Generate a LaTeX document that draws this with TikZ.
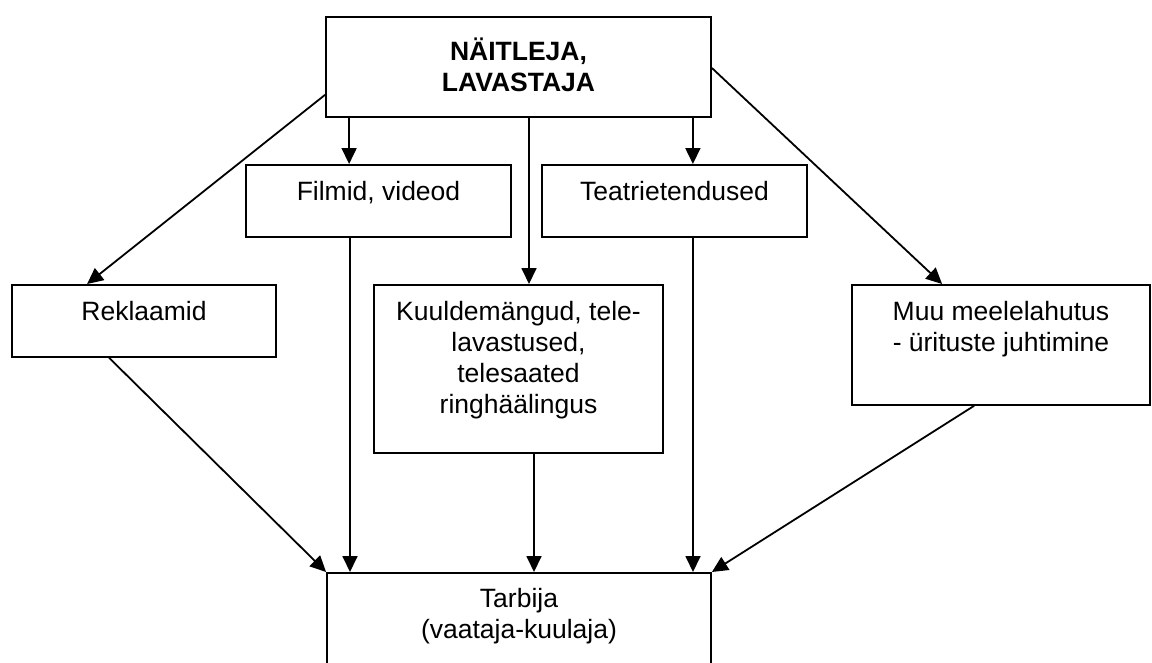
\documentclass[tikz,border=0pt]{standalone}
\usepackage{fontspec}
\setmainfont{Liberation Sans}
\usetikzlibrary{arrows.meta}

\begin{document}
\begin{tikzpicture}[x=1pt, y=-1pt,
      box/.style = {shape=rectangle, draw, align=center, inner sep=0pt,
        line width=1.8pt, font=\fontsize{26.5}{31}\selectfont},
      arr/.style = {-{Triangle[length=16pt,width=15pt]}, line width=1.8pt}]
      \useasboundingbox (0,0) rectangle (1152,662);
      \clip (0,0) rectangle (1152,662);
      % boxes
      \node[box, anchor=north, minimum width=385pt, text height=75pt, text depth=25pt,
        font=\fontsize{26.5}{31}\selectfont\bfseries] (top) at (518.5,16) {NÄITLEJA,\\LAVASTAJA};
      \node[box, anchor=north, minimum width=265pt, text height=36pt, text depth=36pt] (filmid) at (378.5,164) {Filmid, videod};
      \node[box, anchor=north, minimum width=265pt, text height=36pt, text depth=36pt] (teatri) at (674.5,164) {Teatrietendused};
      \node[box, anchor=north, minimum width=264pt, text height=36pt, text depth=36pt] (rekl) at (144,284) {Reklaamid};
      \node[box, anchor=north, minimum width=289pt, text height=129pt, text depth=39pt] (kuuld) at (518.5,284)
        {Kuuldemängud, tele-\\lavastused,\\telesaated\\ringhäälingus};
      \node[box, anchor=north, minimum width=298pt, text height=67pt, text depth=53pt] (muu) at (1001,284)
        {Muu meelelahutus\\- ürituste juhtimine};
      \node[box, anchor=north, minimum width=384pt, text height=66pt, text depth=100pt] (tarbija) at (519,572)
        {Tarbija\\(vaataja-kuulaja)};
      % from the top box
      \draw[arr] ([yshift=23pt]top.south west) -- ([xshift=76pt]rekl.north west);
      \draw[arr] ([xshift=24pt]top.south west) -- ([xshift=24pt]top.south west |- filmid.north);
      \draw[arr] ([xshift=10.5pt]top.south) -- ([xshift=10.5pt]top.south |- kuuld.north);
      \draw[arr] ([xshift=-19pt]top.south east) -- ([xshift=-19pt]top.south east |- teatri.north);
      \draw[arr] ([yshift=-52pt]top.north east) -- ([xshift=91pt]muu.north west);
      % down to the consumer
      \draw[arr] ([xshift=98pt]rekl.south west) -- (tarbija.north west);
      \draw[arr] ([xshift=-28.5pt]filmid.south) -- ([xshift=-28.5pt]filmid.south |- tarbija.north);
      \draw[arr] ([xshift=15.5pt]kuuld.south) -- ([xshift=15.5pt]kuuld.south |- tarbija.north);
      \draw[arr] ([xshift=18.5pt]teatri.south) -- ([xshift=18.5pt]teatri.south |- tarbija.north);
      \draw[arr] ([xshift=123pt]muu.south west) -- (tarbija.north east);
  \end{tikzpicture}
\end{document}
